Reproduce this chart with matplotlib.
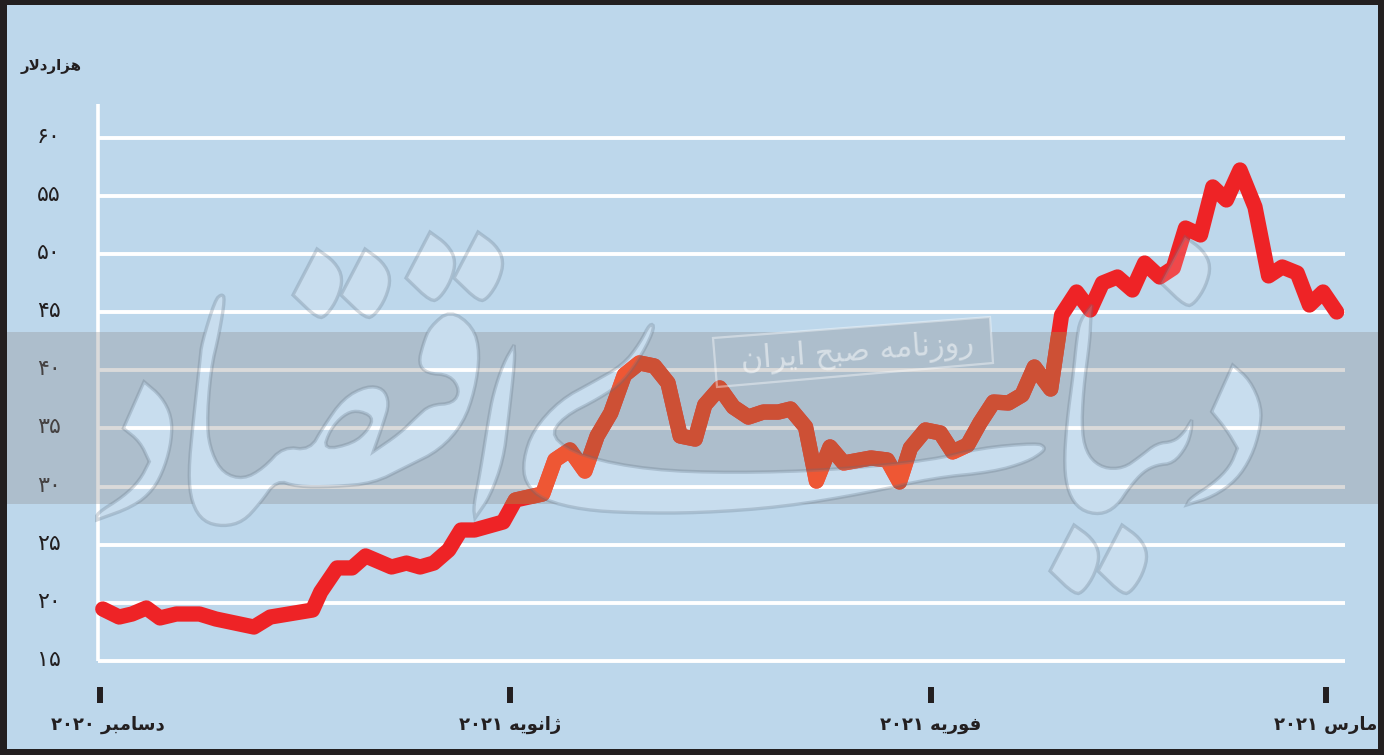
import matplotlib
matplotlib.use('Agg')
import matplotlib.pyplot as plt
from matplotlib.path import Path
from matplotlib.patches import PathPatch, Polygon, Rectangle
from matplotlib.transforms import ScaledTranslation

W, H = 1384, 755
plt.rcParams['font.family'] = ['DejaVu Sans']

# Data (days since 1 Dec 2020, thousand dollars)
days = [0.2, 1.4, 2.35, 3.4, 4.4, 5.6, 7.3, 8.5, 11.3, 12.5, 15.6, 16.2, 17.4, 18.5, 19.5,
        21.4, 22.5, 23.5, 24.5, 25.6, 26.5, 27.5, 29.6, 30.5, 32.5, 33.4, 34.5, 35.6, 36.5,
        37.5, 38.5, 39.6, 40.7, 41.7, 42.6, 43.7, 44.4, 45.5, 46.5, 47.6, 48.7, 49.8, 50.7,
        51.8, 52.6, 53.6, 54.6, 56.6, 57.8, 58.7, 59.5, 60.6, 61.7, 62.6, 63.7, 64.6, 65.6,
        66.7, 67.7, 68.6, 69.8, 70.6, 71.7, 72.7, 73.6, 74.7, 75.8, 76.7, 77.8, 78.8, 79.7,
        80.8, 81.7, 82.7, 83.7, 84.8, 85.8, 86.8, 87.9, 88.8, 89.8, 90.8]
price = [19.47, 18.78, 19.04, 19.56, 18.70, 19.04, 19.04, 18.61, 17.92, 18.78, 19.38, 20.93,
         23.0, 23.0, 24.03, 23.08, 23.42, 23.08, 23.42, 24.54, 26.26, 26.26, 26.95, 28.84,
         29.36, 32.28, 33.14, 31.33, 34.34, 36.32, 39.59, 40.62, 40.36, 38.90, 34.34, 34.08,
         37.01, 38.47, 36.83, 35.97, 36.40, 36.40, 36.66, 35.12, 30.47, 33.40, 32.02, 32.45,
         32.28, 30.39, 33.31, 34.86, 34.60, 32.97, 33.57, 35.46, 37.26, 37.18, 37.87, 40.27,
         38.38, 44.74, 46.72, 45.17, 47.49, 48.01, 46.89, 49.21, 48.01, 48.78, 52.22, 51.62,
         55.75, 54.63, 57.21, 54.03, 48.10, 48.87, 48.35, 45.60, 46.72, 45.0]
y_ticks = [15, 20, 25, 30, 35, 40, 45, 50, 55, 60]
y_labels = ['۱۵', '۲۰', '۲۵', '۳۰', '۳۵', '۴۰', '۴۵', '۵۰', '۵۵', '۶۰']
x_ticks = [0, 30.1, 61, 90]
x_months = ['دسامبر', 'ژانویه', 'فوریه', 'مارس']
x_years = ['۲۰۲۰', '۲۰۲۱', '۲۰۲۱', '۲۰۲۱']

BG = '#bdd7eb'
DARK = '#231f20'
RED = '#ee2326'
RED_BAND = '#eb350c'  # turns orange under the grey band, as in the print

# matplotlib does not join Arabic letters, so pick the presentation forms here
FORMS = {
    'ا': '\ufe8d\ufe8e', 'د': '\ufea9\ufeaa', 'ر': '\ufead\ufeae', 'ز': '\ufeaf\ufeb0',
    'ژ': '\ufb8a\ufb8b', 'و': '\ufeed\ufeee', '\ufefb': '\ufefb\ufefc',
    'ب': '\ufe8f\ufe90\ufe91\ufe92', 'ح': '\ufea1\ufea2\ufea3\ufea4',
    'س': '\ufeb1\ufeb2\ufeb3\ufeb4', 'ص': '\ufeb9\ufeba\ufebb\ufebc',
    'ف': '\ufed1\ufed2\ufed3\ufed4', 'م': '\ufee1\ufee2\ufee3\ufee4',
    'ن': '\ufee5\ufee6\ufee7\ufee8', 'ه': '\ufee9\ufeea\ufeeb\ufeec',
    'ی': '\ufbfc\ufbfd\ufbfe\ufbff',
}


def shape(text):
    text = text.replace('لا', '\ufefb')
    out = []
    for i, c in enumerate(text):
        if c not in FORMS:
            out.append(c)
            continue
        prev_joins = i > 0 and len(FORMS.get(text[i - 1], '')) == 4
        next_joins = i + 1 < len(text) and text[i + 1] in FORMS and len(FORMS[c]) == 4
        out.append(FORMS[c][prev_joins + 2 * next_joins if len(FORMS[c]) == 4 else int(prev_joins)])
    return ''.join(reversed(out))


# Layers: background, chart, then band / watermark / frame on top
fig = plt.figure(figsize=(W / 100, H / 100), dpi=100, facecolor=DARK)


def full_axes(z):
    a = fig.add_axes([0, 0, 1, 1], zorder=z)
    a.set_xlim(0, W)
    a.set_ylim(H, 0)
    a.axis('off')
    return a


back = full_axes(0)
back.add_patch(Rectangle((7, 5), 1371, 744, color=BG, lw=0))
top = full_axes(2)

# chart axes: 98..1345 px across, 104..661 px down
ax = fig.add_axes([98 / W, 1 - 661 / H, (1345 - 98) / W, (661 - 104) / H], zorder=1)
ax.patch.set_alpha(0)
ax.set_xlim(-0.15, 91.41)
ax.set_ylim(15, 62.88)
ax.yaxis.grid(True, color='white', lw=2.8)
ax.set_axisbelow(True)
for s in ['top', 'right']:
    ax.spines[s].set_visible(False)
ax.spines['left'].set_color('white')
ax.spines['left'].set_linewidth(2.6)
ax.spines['left'].set_capstyle('butt')
ax.spines['bottom'].set_position(('outward', 18.7))
ax.spines['bottom'].set_color('none')
ax.plot(days, price, color=RED, lw=11, solid_joinstyle='round', solid_capstyle='round',
        clip_on=False, zorder=3)
under_band = ax.plot(days, price, color=RED_BAND, lw=11, solid_joinstyle='round', zorder=4)[0]
under_band.set_clip_path(Rectangle((7, 332), 1371, 172, transform=top.transData))

ax.set_yticks(y_ticks)
ax.set_yticklabels(y_labels, fontsize=16, color=DARK)
ax.tick_params(axis='y', length=0, pad=27)
for line in ax.get_ygridlines():
    line.set_clip_on(False)
    line.set_solid_capstyle('butt')
for lab in ax.get_yticklabels():
    lab.set_transform(lab.get_transform() + ScaledTranslation(0, 0.03, fig.dpi_scale_trans))

ax.set_xticks(x_ticks)
ax.set_xticklabels([y + ' ' + shape(m) for m, y in zip(x_months, x_years)], fontsize=13,
                   color=DARK, fontweight='bold')
ax.tick_params(axis='x', length=11.5, width=4.3, color=DARK, pad=9.5)
first = ax.get_xticklabels()[0]
first.set_transform(first.get_transform() + ScaledTranslation(0.08, 0, fig.dpi_scale_trans))

top.text(51, 67, shape('هزاردلار'), fontsize=10.8, fontweight='bold', color=DARK, ha='center', va='center')


def chaikin(pts, n=2):
    for _ in range(n):
        new = []
        for i, (x, y) in enumerate(pts):
            x2, y2 = pts[(i + 1) % len(pts)]
            new.append((0.75 * x + 0.25 * x2, 0.75 * y + 0.25 * y2))
            new.append((0.25 * x + 0.75 * x2, 0.25 * y + 0.75 * y2))
        pts = new
    return pts


def oriented(pts, positive):
    area = sum(pts[i][0] * pts[(i + 1) % len(pts)][1] - pts[(i + 1) % len(pts)][0] * pts[i][1]
               for i in range(len(pts)))
    return pts if (area > 0) == positive else pts[::-1]


def zoomed(pts, x0, y0):
    return [(x / 3 + x0, y / 3 + y0) for x, y in pts]


# Watermark outlines, traced in pixels; a point written twice stays a sharp corner
dot = [(317, 249), (317, 249), (335, 262), (343, 278), (338, 298), (327, 315), (318, 319), (293, 295), (293, 295)]
shapes = [[(x + dx, y + dy) for x, y in dot]
          for dx, dy in [(0, 0), (48, 0), (113, -17), (161, -17), (757, 276), (805, 276), (868, -12)]]
shapes.append(zoomed([(162, 485), (162, 485), (215, 530), (245, 590), (245, 660), (225, 740), (190, 810), (130, 860),
                      (20, 900), (20, 900), (20, 880), (100, 830), (150, 780), (178, 725), (178, 725), (150, 665),
                      (100, 625), (100, 625)], 90, 220))
shapes.append(zoomed([(395, 222), (405, 235), (388, 340), (362, 450), (350, 620), (365, 700), (400, 760),
                      (460, 778), (520, 745), (580, 680), (660, 690), (700, 620), (760, 535), (830, 498),
                      (880, 505), (898, 550), (880, 610), (850, 695), (850, 695), (930, 640), (980, 590),
                      (1020, 555), (1090, 550), (1110, 510), (1080, 465), (1010, 460), (985, 430), (1000, 370),
                      (1020, 320), (1080, 270), (1150, 320), (1170, 400), (1155, 510), (1120, 610), (1050, 690),
                      (950, 740), (850, 790), (730, 800), (620, 800), (560, 780), (510, 850), (460, 905),
                      (400, 920), (340, 905), (305, 850), (295, 760), (310, 600), (330, 420), (335, 370),
                      (375, 240)], 90, 220))
shapes.append(zoomed([(1272, 375), (1272, 375), (1275, 420), (1255, 600), (1240, 720), (1200, 830), (1155, 895),
                      (1155, 895), (1150, 860), (1170, 760), (1195, 600), (1210, 520), (1240, 430)], 90, 220))
shapes.append([(650, 323), (640, 343), (623, 365), (593, 382), (560, 400), (533, 430), (523, 460), (525, 483),
               (543, 500), (583, 510), (633, 513), (700, 513), (783, 507), (867, 493), (933, 478), (993, 472),
               (1027, 462), (1043, 452), (1045, 447), (1037, 443), (980, 448), (933, 460), (833, 470), (733, 473),
               (650, 470), (583, 457), (550, 437), (563, 417), (600, 398), (623, 382), (643, 353), (655, 327)])
shapes.append(zoomed([(390, 0), (370, 150), (365, 280), (385, 350), (430, 385), (490, 385), (540, 350), (590, 310),
                      (640, 305), (670, 280), (695, 240), (695, 240), (695, 270), (680, 320), (640, 370), (590, 375),
                      (550, 395), (510, 440), (470, 500), (420, 525), (360, 510), (325, 460), (312, 380), (320, 250),
                      (340, 100), (350, 0), (360, -60), (396, -105), (396, -105), (392, -60)], 960, 340))
shapes.append(zoomed([(818, 75), (818, 75), (870, 120), (905, 200), (900, 270), (875, 350), (830, 420), (760, 470),
                      (680, 495), (680, 495), (690, 475), (760, 430), (810, 380), (832, 325), (832, 325), (800, 270),
                      (755, 215), (755, 215)], 960, 340))
counter = zoomed([(800, 570), (850, 590), (835, 630), (790, 670), (700, 690), (720, 630), (760, 585)], 90, 220)


def closed_path(loops):
    verts, codes = [], []
    for pts in loops:
        verts += list(pts) + [pts[0]]
        codes += [Path.MOVETO] + [Path.LINETO] * (len(pts) - 1) + [Path.CLOSEPOLY]
    return Path(verts, codes)


logo = [oriented(chaikin(s), False) for s in shapes] + [oriented(chaikin(counter), True)]

# grey band with the logo cut out of it, the logo only lightens what is under it
band_rect = [(7, 332), (1378, 332), (1378, 504), (7, 504)]
band = PathPatch(closed_path([oriented(band_rect, True)] + logo), facecolor=(0.557, 0.55, 0.55, 0.32), lw=0)
top.add_patch(band)
band.set_clip_path(Rectangle((7, 332), 1371, 172, transform=top.transData))
top.add_patch(PathPatch(closed_path(logo), facecolor=(1, 1, 1, 0.17), edgecolor=(0.38, 0.45, 0.52, 0.28), lw=2.4))

# newspaper stamp
stamp_pts = [(713, 338), (990, 317), (993, 363), (717, 387)]
stamp = Polygon(stamp_pts, closed=True, facecolor=(0.557, 0.55, 0.55, 0.32), lw=0)
top.add_patch(stamp)
stamp.set_clip_path(Rectangle((700, 300), 300, 32, transform=top.transData))
top.add_patch(Polygon(stamp_pts, closed=True, fill=False, edgecolor=(1, 1, 1, 0.4), lw=1.6))
top.text(857, 352, shape('روزنامه صبح ایران'), fontsize=22, color=(1, 1, 1, 0.5), rotation=4.3,
         rotation_mode='anchor', ha='center', va='center')

# dark frame
for r in [(0, 0, 7, H), (1378, 0, 6, H), (0, 0, W, 5), (0, 749, W, 6)]:
    top.add_patch(Rectangle(r[:2], r[2], r[3], color=DARK, lw=0))

fig.savefig('out.png', dpi=100, facecolor=fig.get_facecolor())
